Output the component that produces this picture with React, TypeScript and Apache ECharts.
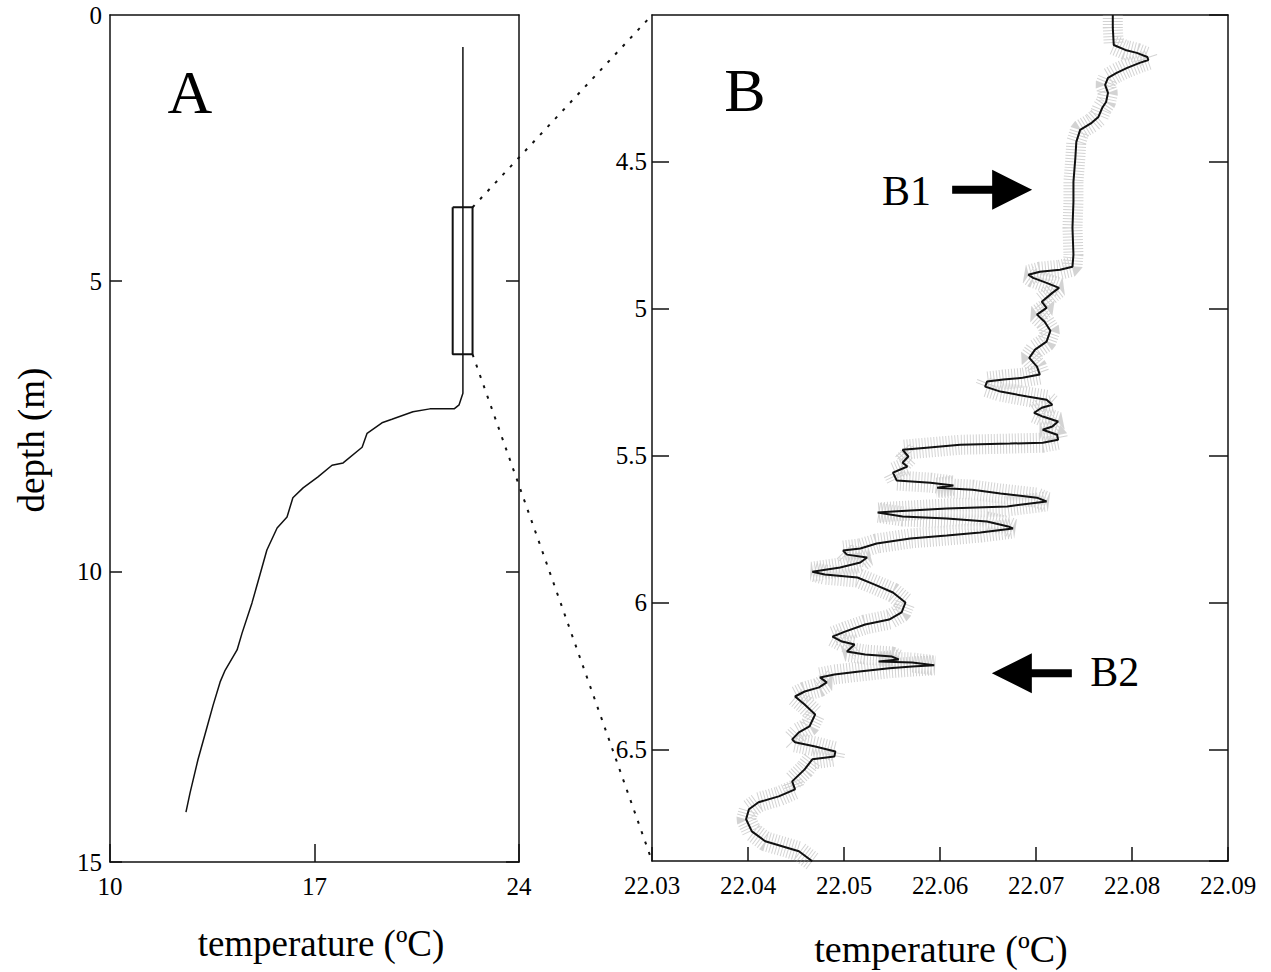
import React, { useEffect, useRef } from "react";
import * as echarts from "echarts";

const FONT = "'Liberation Serif', 'Times New Roman', Times, serif";

// ---- Panel A: full temperature profile ----
const profileATemp = [
  22.08, 22.08, 22.08, 21.95, 21.78, 20.95, 20.37, 19.65, 19.31, 18.8, 18.63, 17.98, 17.6, 17.12, 16.61,
  16.26, 16.06, 15.72, 15.37, 15.13, 14.86, 14.52, 14.35, 13.94, 13.77, 13.53, 13.32, 13.01, 12.74, 12.6,
];
const profileADepth = [
  0.97, 6.7, 6.93, 7.13, 7.2, 7.2, 7.25, 7.38, 7.44, 7.62, 7.86, 8.13, 8.17, 8.37, 8.56,
  8.73, 9.06, 9.25, 9.63, 10.06, 10.54, 11.06, 11.35, 11.7, 11.9, 12.3, 12.68, 13.24, 13.81, 14.14,
];
const zoomBoxTemp = [21.73, 22.41];
const zoomBoxDepth = [3.73, 6.26];
const aTempTicks = [10, 24, 7]; // min, max, interval
const aDepthRange = [0.42, 15];
const aDepthTicks = [5, 10, 15];
const aDepthLabelValues = [0.42, 5, 10, 15];
const aDepthLabelTexts = ["0", "5", "10", "15"];

// ---- Panel B: zoomed high-resolution profile ----
const profileBTemp = [
  22.078, 22.078, 22.0781, 22.0793, 22.0805, 22.0816, 22.0817, 22.0808, 22.0795, 22.0784,
  22.0775, 22.0772, 22.0775, 22.0773, 22.0769, 22.0765, 22.0758, 22.0746, 22.0742, 22.0741,
  22.0739, 22.0739, 22.0738, 22.0739, 22.0738, 22.0725, 22.0704, 22.0692, 22.0697, 22.0711,
  22.0724, 22.0717, 22.0706, 22.0711, 22.0701, 22.0709, 22.0715, 22.0711, 22.0699, 22.0693,
  22.0701, 22.0704, 22.0686, 22.0666, 22.0649, 22.0647, 22.0663, 22.0691, 22.0711, 22.0717,
  22.0706, 22.0698, 22.0707, 22.0723, 22.0717, 22.0707, 22.0722, 22.0723, 22.0707, 22.0673,
  22.0621, 22.0586, 22.0561, 22.0567, 22.0561, 22.0566, 22.0551, 22.0555, 22.059, 22.0614,
  22.0597, 22.0634, 22.0663, 22.0701, 22.0711, 22.067, 22.0607, 22.0551, 22.0535, 22.0561,
  22.0607, 22.0649, 22.0671, 22.0676, 22.0642, 22.0607, 22.0569, 22.0534, 22.0517, 22.0499,
  22.0503, 22.0524, 22.0517, 22.0496, 22.0467, 22.048, 22.0514, 22.0532, 22.0551, 22.0564,
  22.056, 22.0547, 22.0522, 22.0501, 22.0488, 22.0498, 22.0511, 22.0503, 22.0522, 22.055,
  22.0557, 22.0536, 22.0571, 22.0594, 22.0571, 22.0547, 22.0516, 22.049, 22.0475, 22.0482,
  22.0474, 22.0459, 22.0449, 22.0459, 22.047, 22.0464, 22.0453, 22.0446, 22.0449, 22.047,
  22.0491, 22.049, 22.0467, 22.0459, 22.0446, 22.0449, 22.0432, 22.0411, 22.0401, 22.0398,
  22.0404, 22.0418, 22.0439, 22.0453, 22.0467,
];
const profileBDepth = [
  4.0, 4.044, 4.102, 4.119, 4.129, 4.143, 4.153, 4.163, 4.18, 4.197,
  4.214, 4.238, 4.265, 4.296, 4.316, 4.347, 4.367, 4.391, 4.432, 4.486,
  4.568, 4.636, 4.724, 4.816, 4.857, 4.867, 4.874, 4.884, 4.895, 4.912,
  4.929, 4.946, 4.976, 4.997, 5.02, 5.044, 5.075, 5.112, 5.139, 5.167,
  5.197, 5.224, 5.235, 5.241, 5.248, 5.265, 5.282, 5.299, 5.31, 5.327,
  5.337, 5.354, 5.367, 5.384, 5.401, 5.412, 5.429, 5.446, 5.456, 5.459,
  5.463, 5.473, 5.48, 5.503, 5.524, 5.537, 5.558, 5.585, 5.592, 5.602,
  5.609, 5.616, 5.629, 5.643, 5.656, 5.673, 5.68, 5.69, 5.694, 5.707,
  5.714, 5.724, 5.741, 5.748, 5.762, 5.772, 5.782, 5.799, 5.816, 5.823,
  5.837, 5.847, 5.864, 5.881, 5.895, 5.905, 5.915, 5.939, 5.966, 6.0,
  6.034, 6.058, 6.075, 6.099, 6.116, 6.133, 6.143, 6.167, 6.177, 6.184,
  6.194, 6.201, 6.204, 6.214, 6.218, 6.224, 6.235, 6.245, 6.255, 6.272,
  6.289, 6.303, 6.32, 6.347, 6.381, 6.422, 6.442, 6.466, 6.476, 6.49,
  6.507, 6.524, 6.534, 6.568, 6.609, 6.636, 6.66, 6.68, 6.704, 6.738,
  6.779, 6.813, 6.833, 6.847, 6.881,
];
const bTempTicks = [22.03, 22.09, 0.01];
const bDepthTicks = [4.0, 6.88, 0.5];

// annotations (data coordinates of panel B)
const arrowLabels = ["B1", "B2"];
const arrowTipTemp = [22.0696, 22.0654];
const arrowTipDepth = [4.595, 6.241];
const arrowDir = [1, -1];
const arrowTextTemp = [22.0565, 22.0782];
const arrowTextDepth = [4.599, 6.238];

const zip = (a: number[], b: number[]) => a.map((v, i) => [v, b[i]]);

export default function App() {
  const ref = useRef<HTMLDivElement>(null);

  useEffect(() => {
    if (!ref.current) return;
    const chart = echarts.init(ref.current, undefined, { renderer: "svg" });
    const line = { color: "#111", width: 1.5 };
    const label = { fontFamily: FONT, fontSize: 25, color: "#000" };

    const boxData = [
      [zoomBoxTemp[0], zoomBoxDepth[0]],
      [zoomBoxTemp[1], zoomBoxDepth[0]],
      [zoomBoxTemp[1], zoomBoxDepth[1]],
      [zoomBoxTemp[0], zoomBoxDepth[1]],
      [zoomBoxTemp[0], zoomBoxDepth[0]],
    ];

    const bDepthFmt = (v: number) => {
      const k = v / 0.5;
      if (Math.abs(k - Math.round(k)) > 1e-6) return "";
      if (v < 4.25) return "";
      return String(Math.round(v * 10) / 10);
    };
    const aDepthFmt = (v: number) => {
      const i = aDepthLabelValues.findIndex((t) => Math.abs(t - v) < 1e-6);
      return i >= 0 ? aDepthLabelTexts[i] : "";
    };

    chart.setOption({
      animation: false,
      backgroundColor: "#fff",
      grid: [
        { left: 110, top: 15, width: 409, height: 847 },
        { left: 652, top: 15, width: 576, height: 846 },
      ],
      xAxis: [
        {
          type: "value", gridIndex: 0, position: "bottom",
          min: aTempTicks[0], max: aTempTicks[1], interval: aTempTicks[2],
          axisLine: { show: true, onZero: false, lineStyle: line },
          axisTick: { show: true, inside: true, length: 18, lineStyle: line },
          axisLabel: { ...label, margin: 12 },
          splitLine: { show: false },
        },
        {
          type: "value", gridIndex: 0, position: "top",
          min: aTempTicks[0], max: aTempTicks[1], interval: aTempTicks[2],
          axisLine: { show: true, onZero: false, lineStyle: line },
          axisTick: { show: false }, axisLabel: { show: false }, splitLine: { show: false },
        },
        {
          type: "value", gridIndex: 1, position: "bottom",
          min: bTempTicks[0], max: bTempTicks[1], interval: bTempTicks[2],
          axisLine: { show: true, onZero: false, lineStyle: line },
          axisTick: { show: true, inside: true, length: 14, lineStyle: line },
          axisLabel: { ...label, margin: 12, formatter: (v: number) => v.toFixed(2) },
          splitLine: { show: false },
        },
        {
          type: "value", gridIndex: 1, position: "top",
          min: bTempTicks[0], max: bTempTicks[1], interval: bTempTicks[2],
          axisLine: { show: true, onZero: false, lineStyle: line },
          axisTick: { show: false }, axisLabel: { show: false }, splitLine: { show: false },
        },
      ],
      yAxis: [
        {
          type: "value", gridIndex: 0, position: "left", inverse: true,
          min: aDepthRange[0], max: aDepthRange[1],
          axisLine: { show: true, onZero: false, lineStyle: line },
          axisTick: { show: true, inside: true, length: 12, lineStyle: line, customValues: aDepthTicks },
          axisLabel: { ...label, margin: 8, customValues: aDepthLabelValues, formatter: aDepthFmt },
          splitLine: { show: false },
        },
        {
          type: "value", gridIndex: 0, position: "right", inverse: true,
          min: aDepthRange[0], max: aDepthRange[1],
          axisLine: { show: true, onZero: false, lineStyle: line },
          axisTick: { show: true, inside: true, length: 13, lineStyle: line, customValues: aDepthTicks },
          axisLabel: { show: false }, splitLine: { show: false },
        },
        {
          type: "value", gridIndex: 1, position: "left", inverse: true,
          min: bDepthTicks[0], max: bDepthTicks[1], interval: bDepthTicks[2],
          axisLine: { show: true, onZero: false, lineStyle: line },
          axisTick: { show: true, inside: true, length: 17, lineStyle: line },
          axisLabel: { ...label, margin: 5, formatter: bDepthFmt, showMinLabel: false, showMaxLabel: false },
          splitLine: { show: false },
        },
        {
          type: "value", gridIndex: 1, position: "right", inverse: true,
          min: bDepthTicks[0], max: bDepthTicks[1], interval: bDepthTicks[2],
          axisLine: { show: true, onZero: false, lineStyle: line },
          axisTick: { show: true, inside: true, length: 19, lineStyle: line },
          axisLabel: { show: false }, splitLine: { show: false },
        },
      ],
      series: [
        {
          type: "line", name: "profile A", xAxisIndex: 0, yAxisIndex: 0,
          data: zip(profileATemp, profileADepth), showSymbol: false, silent: true,
          lineStyle: { color: "#111", width: 1.5 },
        },
        {
          type: "line", name: "zoom box", xAxisIndex: 0, yAxisIndex: 0,
          data: boxData, showSymbol: false, silent: true,
          lineStyle: { color: "#111", width: 2 },
        },
        {
          type: "line", name: "scatter B", xAxisIndex: 2, yAxisIndex: 2,
          data: zip(profileBTemp, profileBDepth), showSymbol: false, silent: true,
          lineStyle: { color: "rgba(150,150,150,0.42)", width: 20, type: [1, 2] },
        },
        {
          type: "line", name: "profile B", xAxisIndex: 2, yAxisIndex: 2,
          data: zip(profileBTemp, profileBDepth), showSymbol: false, silent: true,
          lineStyle: { color: "#111", width: 2 },
        },
      ],
    });

    const pA = (x: number, y: number) =>
      chart.convertToPixel({ xAxisIndex: 0, yAxisIndex: 0 }, [x, y]) as number[];
    const pB = (x: number, y: number) =>
      chart.convertToPixel({ xAxisIndex: 2, yAxisIndex: 2 }, [x, y]) as number[];

    const boxTR = pA(zoomBoxTemp[1], zoomBoxDepth[0]);
    const boxBR = pA(zoomBoxTemp[1], zoomBoxDepth[1]);
    const bTL = pB(bTempTicks[0], bDepthTicks[0]);
    const bBL = pB(bTempTicks[0], bDepthTicks[1]);

    const dotted = { stroke: "#111", lineWidth: 2, lineDash: [3, 8] };
    const graphics: any[] = [
      { type: "line", shape: { x1: boxTR[0], y1: boxTR[1], x2: bTL[0], y2: bTL[1] }, style: dotted, silent: true },
      { type: "line", shape: { x1: boxBR[0], y1: boxBR[1], x2: bBL[0], y2: bBL[1] }, style: dotted, silent: true },
      {
        type: "text", x: 190, y: 92,
        style: { text: "A", font: `62px ${FONT}`, fill: "#000", textAlign: "center", textVerticalAlign: "middle" },
      },
      {
        type: "text", x: 745, y: 90,
        style: { text: "B", font: `62px ${FONT}`, fill: "#000", textAlign: "center", textVerticalAlign: "middle" },
      },
      {
        type: "text", x: 31, y: 440, rotation: Math.PI / 2,
        style: { text: "depth (m)", font: `37px ${FONT}`, fill: "#000", textAlign: "center", textVerticalAlign: "middle" },
      },
      {
        type: "text", x: 321, y: 943,
        style: { text: "temperature (ºC)", font: `37px ${FONT}`, fill: "#000", textAlign: "center", textVerticalAlign: "middle" },
      },
      {
        type: "text", x: 941, y: 949,
        style: { text: "temperature (ºC)", font: `38px ${FONT}`, fill: "#000", textAlign: "center", textVerticalAlign: "middle" },
      },
    ];

    arrowLabels.forEach((lab, i) => {
      const tip = pB(arrowTipTemp[i], arrowTipDepth[i]);
      const d = arrowDir[i];
      const [tx, ty] = tip;
      const pts = [
        [tx, ty],
        [tx - d * 40, ty - 20],
        [tx - d * 40, ty - 4],
        [tx - d * 80, ty - 4],
        [tx - d * 80, ty + 4],
        [tx - d * 40, ty + 4],
        [tx - d * 40, ty + 20],
      ];
      graphics.push({ type: "polygon", shape: { points: pts }, style: { fill: "#000" }, silent: true });
      const tp = pB(arrowTextTemp[i], arrowTextDepth[i]);
      graphics.push({
        type: "text", x: tp[0], y: tp[1],
        style: { text: lab, font: `42px ${FONT}`, fill: "#000", textAlign: "center", textVerticalAlign: "middle" },
      });
    });

    chart.setOption({ graphic: graphics });

    return () => chart.dispose();
  }, []);

  return (
    <div
      ref={ref}
      style={{ position: "absolute", left: 0, top: 0, width: 1271, height: 972, background: "#fff" }}
    />
  );
}
